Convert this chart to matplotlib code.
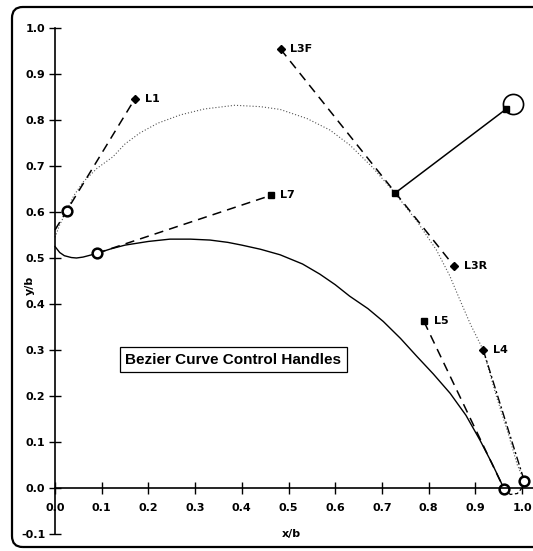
import matplotlib
matplotlib.use("Agg")
import matplotlib.pyplot as plt
from matplotlib.patches import FancyBboxPatch

plt.rcParams['axes.unicode_minus'] = False

# ---------------- data ----------------
upper_x = [0.0, 0.01, 0.025, 0.04, 0.06, 0.09, 0.124, 0.15, 0.182, 0.22, 0.268,
           0.32, 0.385, 0.44, 0.482, 0.54, 0.589, 0.632, 0.68, 0.728, 0.775,
           0.817, 0.845, 0.867, 0.89, 0.917, 0.945, 0.97, 0.99, 1.005]
upper_y = [0.545, 0.572, 0.603, 0.635, 0.665, 0.695, 0.72, 0.748, 0.772, 0.793, 0.811,
           0.824, 0.832, 0.829, 0.823, 0.803, 0.778, 0.745, 0.697, 0.641, 0.58,
           0.517, 0.462, 0.409, 0.355, 0.30, 0.20, 0.12, 0.05, 0.015]

lower_x = [0.0, 0.01, 0.02, 0.035, 0.046, 0.06, 0.075, 0.089, 0.12, 0.15, 0.2,
           0.246, 0.29, 0.332, 0.37, 0.40, 0.44, 0.482, 0.53, 0.567, 0.6, 0.631,
           0.67, 0.703, 0.74, 0.775, 0.81, 0.846, 0.88, 0.91, 0.935, 0.953, 0.962]
lower_y = [0.525, 0.512, 0.505, 0.501, 0.50, 0.502, 0.506, 0.51, 0.52, 0.528, 0.536,
           0.541, 0.541, 0.539, 0.534, 0.528, 0.519, 0.507, 0.487, 0.465, 0.442, 0.417,
           0.39, 0.362, 0.325, 0.286, 0.248, 0.206, 0.158, 0.104, 0.055, 0.017, -0.003]

te_x = [0.962, 0.975, 0.99, 1.0, 1.005]
te_y = [-0.003, -0.014, -0.012, 0.0, 0.015]

# control handles (dashed)
h_L1_x = [0.0, 0.171];   h_L1_y = [0.561, 0.846]
h_L7_x = [0.089, 0.462]; h_L7_y = [0.51, 0.636]
h_L3_x = [0.483, 0.854]; h_L3_y = [0.954, 0.483]
h_L5_x = [0.790, 0.962]; h_L5_y = [0.362, -0.003]
h_L4_x = [0.917, 1.005]; h_L4_y = [0.30, 0.015]

labels = ["L1", "L7", "L3F", "L3R", "L5", "L4"]
label_x = [0.171, 0.462, 0.483, 0.854, 0.790, 0.917]
label_y = [0.846, 0.636, 0.954, 0.483, 0.362, 0.30]
label_mk = ["D", "s", "D", "D", "s", "D"]

circle_x = [0.025, 0.089, 0.962, 1.005]
circle_y = [0.603, 0.51, -0.003, 0.015]

pivot_x = [0.728, 0.965]
pivot_y = [0.641, 0.823]
knob_x = [0.981]
knob_y = [0.834]

xticks = [0.0, 0.1, 0.2, 0.3, 0.4, 0.5, 0.6, 0.7, 0.8, 0.9, 1.0]
yticks = [-0.1, 0.0, 0.1, 0.2, 0.3, 0.4, 0.5, 0.6, 0.7, 0.8, 0.9, 1.0]

# ---------------- figure ----------------
W, H = 533, 551
fig = plt.figure(figsize=(W / 100, H / 100), dpi=100)
ax = fig.add_axes([55 / W, 17 / H, 479 / W, 506 / H])
ax.set_xlim(0, 479 / 467)
ax.set_ylim(-0.1, 1.0)
ax.patch.set_alpha(0)

tickfont = dict(family="DejaVu Sans", weight="bold", size=8)

# curves
ax.plot(upper_x, upper_y, color="#555555", lw=0.8, ls=(0, (1.0, 1.8)), clip_on=False)
ax.plot(lower_x, lower_y, color="black", lw=1.0, clip_on=False)
ax.plot(te_x, te_y, color="black", lw=0.9, ls=(0, (3, 2)), clip_on=False)

dash = (0, (6, 4))
for hx, hy in [(h_L1_x, h_L1_y), (h_L7_x, h_L7_y), (h_L3_x, h_L3_y), (h_L5_x, h_L5_y)]:
    ax.plot(hx, hy, color="black", lw=1.1, ls=dash, clip_on=False)
ax.plot(h_L4_x, h_L4_y, color="black", lw=1.0, ls=(0, (6, 2, 1.5, 2)), clip_on=False)

# control points + labels
for lab, x, y, m in zip(labels, label_x, label_y, label_mk):
    ax.plot([x], [y], marker=m, color="black", ms=4 if m == "D" else 4.5, clip_on=False)
    ax.annotate(lab, (x, y), xytext=(7, 0), textcoords="offset points",
                va="center", ha="left", **tickfont)

# open circles
ax.plot(circle_x, circle_y, ls="none", marker="o", ms=7, mfc="white", mec="black",
        mew=1.8, clip_on=False)

# pivot handle
ax.plot(pivot_x, pivot_y, color="black", lw=1.1, clip_on=False)
ax.plot(pivot_x, pivot_y, ls="none", marker="s", ms=4.5, color="black", clip_on=False)
ax.plot(knob_x, knob_y, ls="none", marker="o", ms=14.5, mfc="none", mec="black",
        mew=1.2, clip_on=False)

# text box
ax.text(0.382, 0.279, "Bezier Curve Control Handles", ha="center", va="center",
        family="Liberation Sans", weight="bold", size=11,
        bbox=dict(boxstyle="square,pad=0.35", fc="white", ec="black", lw=0.9))

# axes styling
ax.spines["top"].set_visible(False)
ax.spines["right"].set_visible(False)
ax.spines["bottom"].set_position(("data", 0))
ax.spines["left"].set_linewidth(1.2)
ax.spines["bottom"].set_linewidth(1.2)
ax.spines["left"].set_bounds(-0.1, 1.0)
ax.set_xticks(xticks)
ax.set_yticks(yticks)
ax.set_xticklabels([f"{v:.1f}" for v in xticks], **tickfont)
ax.set_yticklabels([f"{v:.1f}" for v in yticks], **tickfont)
ax.tick_params(axis="x", direction="inout", length=8, width=1.0, pad=7)
ax.tick_params(axis="y", direction="inout", length=8, width=1.0, pad=3)

ax.text(0.507, -0.1, "x/b", ha="center", va="center", **tickfont)
ax.text(-0.054, 0.44, "y/b", ha="center", va="center", rotation=90, **tickfont)

# rounded frame around the figure
frame = FancyBboxPatch((12 / W, 4 / H), 560 / W, 540 / H,
                       boxstyle="round,pad=0,rounding_size=0.02",
                       transform=fig.transFigure, fc="none", ec="black", lw=1.6)
fig.patches.append(frame)

fig.savefig("out.png", dpi=100)
